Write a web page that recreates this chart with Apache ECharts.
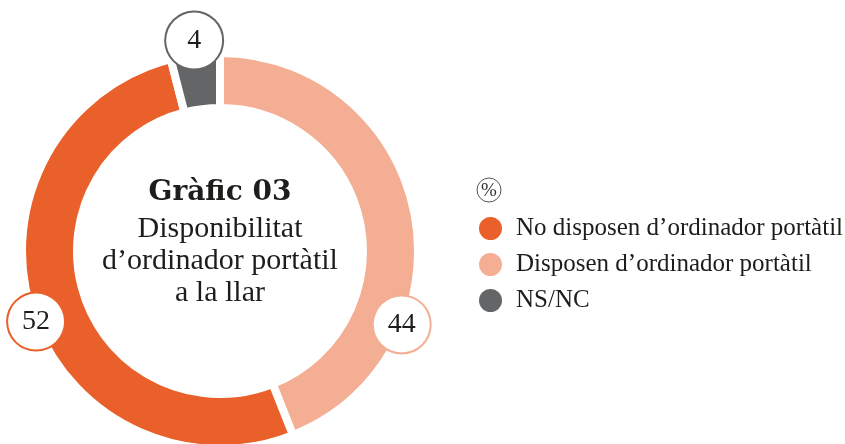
<!DOCTYPE html>
<html>
<head>
<meta charset="utf-8">
<script src="https://cdn.jsdelivr.net/npm/echarts@6/dist/echarts.min.js"></script>
<style>
  html, body { margin: 0; padding: 0; background: #fff; }
  #chart { width: 845px; height: 444px; }
</style>
</head>
<body>
<div id="chart"></div>
<script>
// dades
var categories = ["Disposen d’ordinador portàtil", "No disposen d’ordinador portàtil", "NS/NC"];
var values = [44, 52, 4];
var legendOrder = ["No disposen d’ordinador portàtil", "Disposen d’ordinador portàtil", "NS/NC"];
var colors = ["#F4AE93", "#E9602A", "#646567"];

// posició de les etiquetes (angle des de dalt, en sentit horari, i distància al centre)
var labelAngles = [112, 249, 353];
var labelDist = [196, 197, 212];

var cx = 220, cy = 251;
var serif = "'Liberation Serif', serif";

var myChart = echarts.init(document.getElementById('chart'));

var option = {
  animation: false,
  title: {
    text: "Gràfic 03",
    subtext: "Disponibilitat\nd’ordinador portàtil\na la llar",
    left: cx,
    top: 176,
    textAlign: "center",
    padding: 0,
    itemGap: 3,
    textStyle: {
      fontFamily: "'DejaVu Serif', serif",
      fontWeight: "bold",
      fontSize: 28,
      lineHeight: 34,
      color: "#1d1d1b"
    },
    subtextStyle: {
      fontFamily: serif,
      fontSize: 30,
      lineHeight: 32,
      color: "#1d1d1b",
      align: "center"
    }
  },
  legend: {
    orient: "vertical",
    left: 477,
    top: 215,
    padding: 0,
    itemWidth: 25,
    itemHeight: 25,
    itemGap: 9,
    icon: "circle",
    data: legendOrder,
    textStyle: {
      fontFamily: serif,
      fontSize: 25,
      color: "#1d1d1b",
      padding: [0, 0, 0, 8]
    },
    selectedMode: false
  },
  graphic: [
    {
      type: "circle",
      shape: { cx: 489, cy: 190, r: 12 },
      style: { fill: "none", stroke: "#555", lineWidth: 1 }
    },
    {
      type: "text",
      x: 489,
      y: 191,
      style: {
        text: "%",
        fontFamily: serif,
        fontSize: 19,
        fill: "#333",
        align: "center",
        verticalAlign: "middle"
      }
    }
  ],
  series: [
    {
      type: "pie",
      center: [cx, cy],
      radius: [143, 198],
      startAngle: 90,
      clockwise: true,
      silent: true,
      itemStyle: {
        borderColor: "#fff",
        borderWidth: 8
      },
      labelLine: { show: false },
      label: {
        show: true,
        position: "outside",
        formatter: "{c}",
        fontFamily: serif,
        fontSize: 28,
        color: "#1d1d1b",
        backgroundColor: "#fff",
        borderWidth: 2,
        borderRadius: 29,
        width: 56,
        height: 56,
        lineHeight: 56,
        align: "center",
        padding: 0
      },
      labelLayout: function (params) {
        var i = params.dataIndex;
        var a = labelAngles[i] * Math.PI / 180;
        return {
          x: cx + labelDist[i] * Math.sin(a),
          y: cy - labelDist[i] * Math.cos(a),
          align: "center",
          verticalAlign: "middle"
        };
      },
      data: categories.map(function (name, i) {
        return {
          name: name,
          value: values[i],
          itemStyle: { color: colors[i] },
          label: { borderColor: colors[i] }
        };
      })
    }
  ]
};

myChart.setOption(option);
</script>
</body>
</html>
